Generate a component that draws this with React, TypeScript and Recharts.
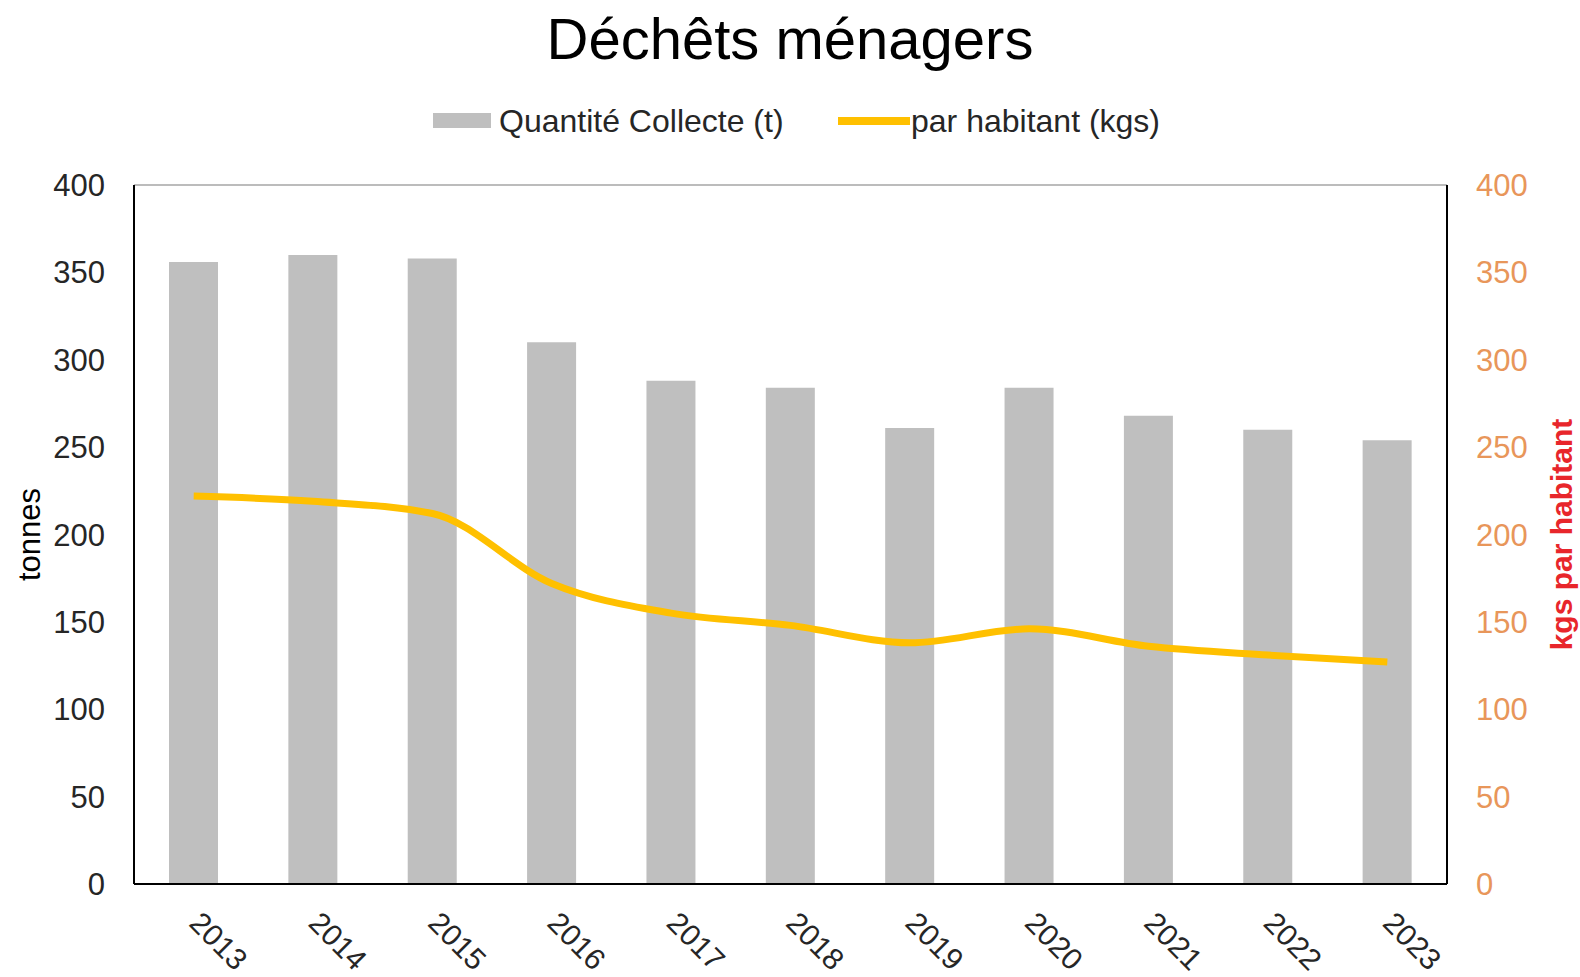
import React from 'react';
import { ComposedChart, Bar, Line, XAxis, YAxis, CartesianGrid, Legend } from 'recharts';

const years = ['2013', '2014', '2015', '2016', '2017', '2018', '2019', '2020', '2021', '2022', '2023'];
const quantite = [356, 360, 358, 310, 288, 284, 261, 284, 268, 260, 254];
const parHabitant = [222, 219, 212, 172, 155, 148, 138, 146, 136, 131, 127];
const yTicks = [0, 50, 100, 150, 200, 250, 300, 350, 400];

const data = years.map((y, i) => ({ year: y, quantite: quantite[i], habitant: parHabitant[i] }));

const FONT = '"Liberation Sans", Arial, sans-serif';
const BAR_COLOR = '#BFBFBF';
const LINE_COLOR = '#FFC000';

const XTick = (props: any) => {
  const { x, y, payload } = props;
  return (
    <g transform={`translate(${x + 25},${y + 49})`}>
      <text
        transform="rotate(45)"
        textAnchor="middle"
        dominantBaseline="central"
        fontFamily={FONT}
        fontSize={30}
        fill="#262626"
      >
        {payload.value}
      </text>
    </g>
  );
};

const LegendContent = () => (
  <svg width={1580} height={50} style={{ display: 'block' }}>
    <rect x={433} y={12} width={58} height={15} fill={BAR_COLOR} />
    <text x={499} y={31} fontFamily={FONT} fontSize={32} fill="#262626">Quantité Collecte (t)</text>
    <line x1={838} x2={910} y1={20} y2={20} stroke={LINE_COLOR} strokeWidth={8} />
    <text x={911} y={31} fontFamily={FONT} fontSize={32} fill="#262626">par habitant (kgs)</text>
  </svg>
);

export default function App() {
  return (
    <div style={{ position: 'absolute', left: 0, top: 0, width: 1580, height: 977, background: '#fff' }}>
      <div
        style={{
          position: 'absolute',
          left: 0,
          top: 4,
          width: 1580,
          textAlign: 'center',
          fontFamily: FONT,
          fontSize: 58,
          lineHeight: '70px',
          color: '#000',
        }}
      >
        Déchêts ménagers
      </div>
      <ComposedChart
        width={1580}
        height={977}
        data={data}
        margin={{ top: 135, right: 33, bottom: 33, left: 34 }}
        barCategoryGap={0}
      >
        <CartesianGrid vertical={false} stroke="#A6A6A6" strokeWidth={1.5} />
        <Legend
          verticalAlign="top"
          content={<LegendContent />}
          wrapperStyle={{ position: 'absolute', top: 101, left: 0, width: 1580, height: 50 }}
        />
        <XAxis
          dataKey="year"
          axisLine={{ stroke: '#000', strokeWidth: 2 }}
          tickLine={false}
          tick={<XTick />}
          height={60}
          interval={0}
        />
        <YAxis
          yAxisId="left"
          domain={[0, 400]}
          ticks={yTicks}
          axisLine={{ stroke: '#000', strokeWidth: 2 }}
          tickLine={false}
          tickMargin={23}
          width={100}
          tick={{ fontFamily: FONT, fontSize: 31, fill: '#262626' }}
          label={{
            value: 'tonnes',
            angle: -90,
            position: 'insideLeft',
            offset: -5,
            style: { fontFamily: FONT, fontSize: 31, fill: '#000', textAnchor: 'middle' },
          }}
        />
        <YAxis
          yAxisId="right"
          orientation="right"
          domain={[0, 400]}
          ticks={yTicks}
          axisLine={{ stroke: '#000', strokeWidth: 2 }}
          tickLine={false}
          tickMargin={23}
          width={100}
          tick={{ fontFamily: FONT, fontSize: 31, fill: '#E8965A' }}
          label={{
            value: 'kgs par habitant',
            angle: -90,
            position: 'insideRight',
            offset: -14,
            style: { fontFamily: FONT, fontSize: 30, fontWeight: 'bold', fill: '#E8262B', textAnchor: 'middle' },
          }}
        />
        <Bar yAxisId="left" dataKey="quantite" name="Quantité Collecte (t)" fill={BAR_COLOR} barSize={49} isAnimationActive={false} />
        <Line
          yAxisId="right"
          dataKey="habitant"
          name="par habitant (kgs)"
          type="monotone"
          stroke={LINE_COLOR}
          strokeWidth={7}
          dot={false}
          isAnimationActive={false}
        />
      </ComposedChart>
    </div>
  );
}
